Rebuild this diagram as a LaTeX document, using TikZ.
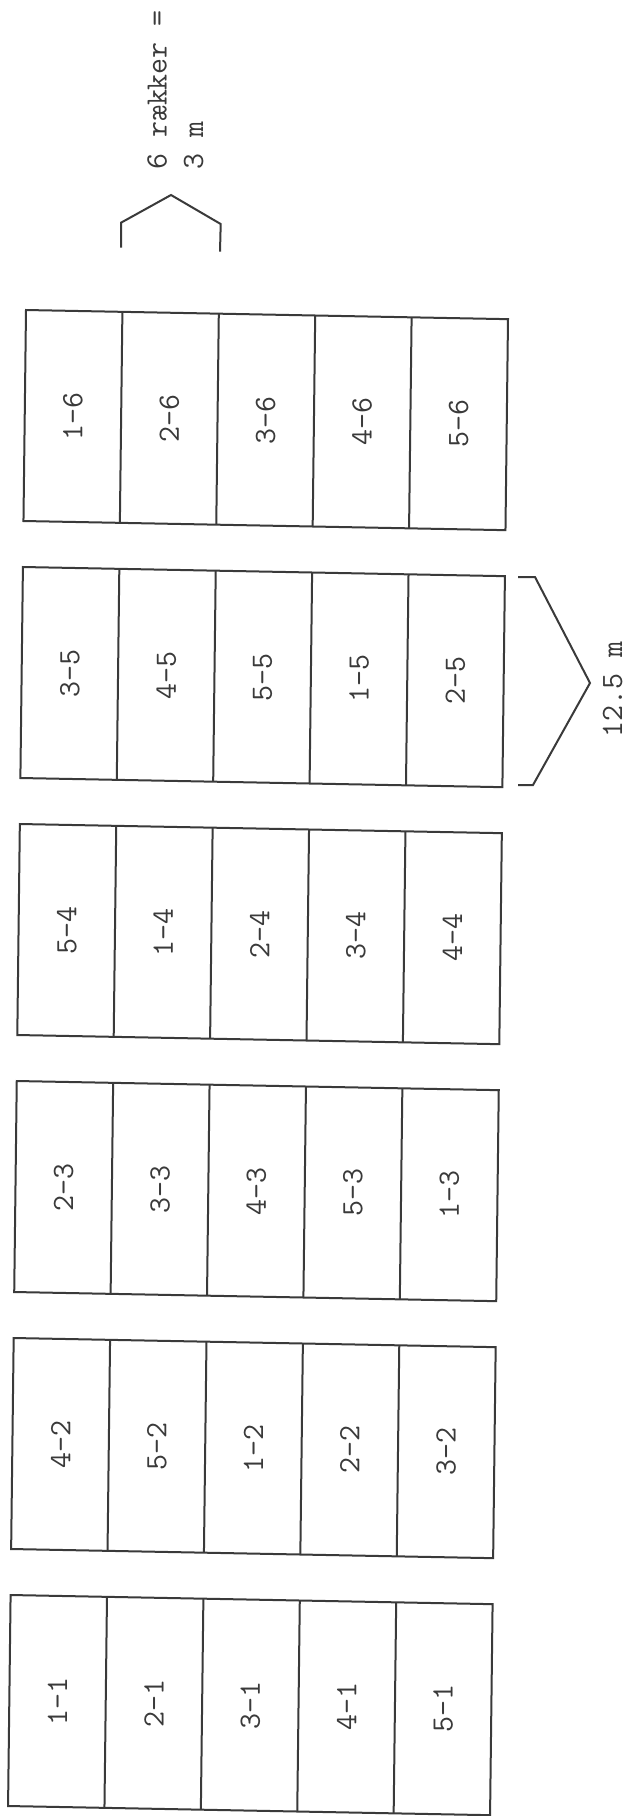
\documentclass[tikz,border=0pt]{standalone}
\usepackage{fontspec}
\definecolor{ink}{HTML}{3A3A3A}
\tikzset{
  plotline/.style={draw=ink, line width=2pt, line join=miter},
  lbl/.style={text=ink, font=\fontsize{31}{33}\selectfont\ttfamily, rotate=90, inner sep=0pt},
}
\begin{document}
\begin{tikzpicture}[x=1pt,y=1pt]
\useasboundingbox (0,0) rectangle (629,-1816);
\fill[white] (0,0) rectangle (629,-1816);
\begin{scope}[cm={1,-0.019,0.012,1,(26pt,-310pt)}]
\foreach \k/\labs in {6/{1-6,2-6,3-6,4-6,5-6},5/{3-5,4-5,5-5,1-5,2-5},4/{5-4,1-4,2-4,3-4,4-4},3/{2-3,3-3,4-3,5-3,1-3},2/{4-2,5-2,1-2,2-2,3-2},1/{1-1,2-1,3-1,4-1,5-1}}{
  \pgfmathsetmacro\ytop{-(6-\k)*257}
  \draw[plotline] (0,\ytop) rectangle (482,\ytop-211);
  \foreach \j in {1,...,4}{
    \draw[plotline] (96.4*\j,\ytop) -- (96.4*\j,\ytop-211);
  }
  \foreach \lab [count=\j from 0] in \labs{
    \node[lbl] (c\k-\j) at (96.4*\j+48.2,\ytop-105.5) {\lab};
  }
}
\end{scope}
\draw[plotline] (121,-247.7) -- (121,-222.7) -- (171,-195) -- (220.7,-224) -- (220,-251.7);
\draw[plotline] (518,-577) -- (535,-577) -- (590,-683) -- (533,-785) -- (518,-785);
\node[lbl, anchor=base west] (t1) at (166.5,-170) {6 rækker =};
\node[lbl, anchor=base west] (t2) at (203,-170) {3 m};
\node[lbl, anchor=base west] (t3) at (622,-738) {12.5 m};
\end{tikzpicture}
\end{document}
